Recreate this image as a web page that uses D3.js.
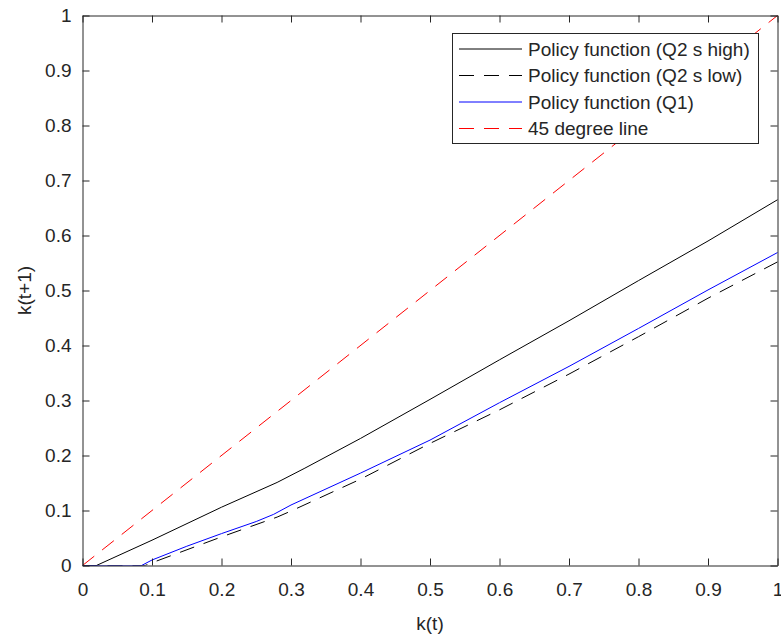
<!DOCTYPE html>
<html>
<head>
<meta charset="utf-8">
<script src="https://cdn.jsdelivr.net/npm/d3@7"></script>
<style>
  html, body { margin: 0; padding: 0; background: #fff; }
  svg { display: block; }
  text { font-family: "Liberation Sans", Arial, Helvetica, sans-serif; fill: #262626; }
</style>
</head>
<body>
<svg id="chart" width="781" height="634"></svg>
<script>
// ---- data ----
const kHigh = [0, 0.02, 0.1, 0.2, 0.28, 0.32, 0.4, 0.5, 0.6, 0.7, 0.8, 0.9, 1.0];
const vHigh = [0, 0, 0.046, 0.106, 0.151, 0.177, 0.231, 0.302, 0.374, 0.445, 0.518, 0.590, 0.665];

const kLow = [0, 0.09, 0.1, 0.2, 0.28, 0.3, 0.4, 0.5, 0.6, 0.7, 0.8, 0.9, 1.0];
const vLow = [0, 0, 0.005, 0.052, 0.088, 0.099, 0.157, 0.222, 0.283, 0.348, 0.416, 0.486, 0.552];

const kQ1 = [0, 0.085, 0.1, 0.15, 0.2, 0.25, 0.275, 0.3, 0.4, 0.5, 0.6, 0.7, 0.8, 0.9, 1.0];
const vQ1 = [0, 0, 0.010, 0.035, 0.058, 0.080, 0.093, 0.110, 0.168, 0.228, 0.296, 0.362, 0.431, 0.501, 0.569];

const k45 = [0, 1];
const v45 = [0, 1];

const xTicks = [0, 0.1, 0.2, 0.3, 0.4, 0.5, 0.6, 0.7, 0.8, 0.9, 1];
const yTicks = [0, 0.1, 0.2, 0.3, 0.4, 0.5, 0.6, 0.7, 0.8, 0.9, 1];

const seriesNames = ["Policy function (Q2 s high)", "Policy function (Q2 s low)", "Policy function (Q1)", "45 degree line"];

// ---- layout ----
const L = 82.5, R = 777.5, T = 15.5, B = 565.5;
const axisColor = "#262626";
const svg = d3.select("#chart");

const x = d3.scaleLinear().domain([0, 1]).range([L, R]);
const y = d3.scaleLinear().domain([0, 1]).range([B, T]);

const tickFmt = d => (d === 0 ? "0" : d === 1 ? "1" : d3.format(".1f")(d));

svg.append("defs").append("clipPath").attr("id", "clip")
  .append("rect").attr("x", L).attr("y", T - 1).attr("width", R - L + 1).attr("height", B - T + 1);

const series = [
  { k: kHigh, v: vHigh, color: "#000000", dash: null },
  { k: kLow, v: vLow, color: "#000000", dash: "15,10" },
  { k: kQ1, v: vQ1, color: "#0000ff", dash: null },
  { k: k45, v: v45, color: "#ff0000", dash: "15,10" }
];

const line = d3.line().x(d => x(d[0])).y(d => y(d[1]));

const g = svg.append("g").attr("clip-path", "url(#clip)");
series.forEach(s => {
  const pts = s.k.map((kk, i) => [kk, s.v[i]]);
  g.append("path")
    .datum(pts)
    .attr("d", line)
    .attr("fill", "none")
    .attr("stroke", s.color)
    .attr("stroke-width", 1)
    .attr("stroke-dasharray", s.dash);
});

// axes
const xAxisB = d3.axisBottom(x).tickValues(xTicks).tickFormat(tickFmt).tickSizeInner(-7).tickSizeOuter(0).tickPadding(17);
const xAxisT = d3.axisTop(x).tickValues(xTicks).tickFormat("").tickSizeInner(-7).tickSizeOuter(0);
const yAxisL = d3.axisLeft(y).tickValues(yTicks).tickFormat(tickFmt).tickSizeInner(-7).tickSizeOuter(0).tickPadding(11);
const yAxisR = d3.axisRight(y).tickValues(yTicks).tickFormat("").tickSizeInner(-7).tickSizeOuter(0);

function styleAxis(sel) {
  sel.selectAll("path").attr("stroke", axisColor).attr("stroke-width", 1);
  sel.selectAll("line").attr("stroke", axisColor).attr("stroke-width", 1);
  sel.selectAll("text").attr("fill", axisColor)
    .style("font-family", '"Liberation Sans", Arial, sans-serif').style("font-size", "19px");
}

svg.append("g").attr("transform", `translate(0,${B})`).call(xAxisB).call(styleAxis);
svg.append("g").attr("transform", `translate(0,${T})`).call(xAxisT).call(styleAxis);
svg.append("g").attr("transform", `translate(${L},0)`).call(yAxisL).call(styleAxis);
svg.append("g").attr("transform", `translate(${R},0)`).call(yAxisR).call(styleAxis);

// axis labels
svg.append("text")
  .attr("x", (L + R) / 2).attr("y", 630)
  .attr("text-anchor", "middle")
  .style("font-size", "19px")
  .text("k(t)");

svg.append("text")
  .attr("transform", `translate(31,${(T + B) / 2}) rotate(-90)`)
  .attr("text-anchor", "middle")
  .style("font-size", "19px")
  .text("k(t+1)");

// legend
const lg = svg.append("g");
lg.append("rect")
  .attr("x", 452.5).attr("y", 33.5).attr("width", 306).attr("height", 110)
  .attr("fill", "#fff").attr("stroke", axisColor).attr("stroke-width", 1);

const rowY = [49, 75.5, 102, 128.5];
series.forEach((s, i) => {
  lg.append("line")
    .attr("x1", 459).attr("x2", 522)
    .attr("y1", rowY[i]).attr("y2", rowY[i])
    .attr("stroke", s.color).attr("stroke-width", 1)
    .attr("stroke-dasharray", s.dash);
  lg.append("text")
    .attr("x", 528).attr("y", rowY[i] + 6.5)
    .style("font-size", "19px")
    .attr("fill", "#000")
    .text(seriesNames[i]);
});
</script>
</body>
</html>
